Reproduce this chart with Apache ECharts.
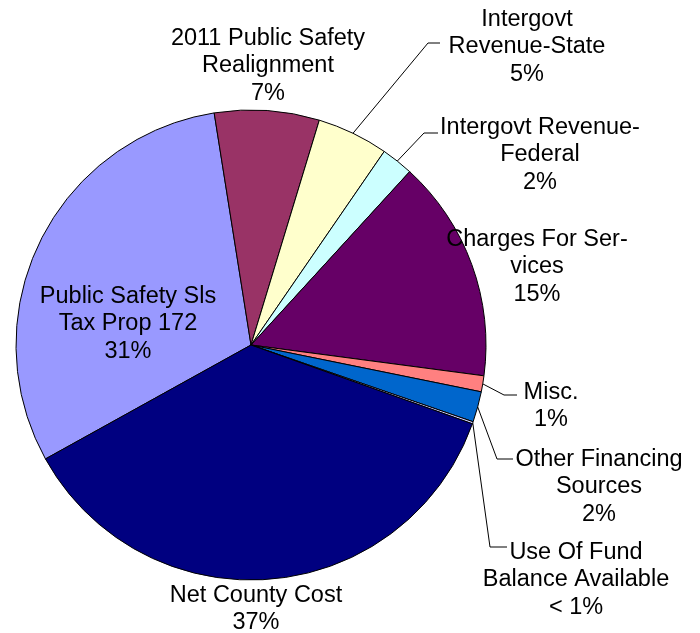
<!DOCTYPE html>
<html>
<head>
<meta charset="utf-8">
<title>Revenue sources</title>
<script src="https://cdn.jsdelivr.net/npm/echarts@6/dist/echarts.min.js"></script>
<style>
  html, body { margin: 0; padding: 0; background: #ffffff; }
  #chart { width: 700px; height: 633px; }
</style>
</head>
<body>
<div id="chart"></div>
<script>
// Revenue categories (label text, with the line breaks used on the chart)
const categories = [
  'Public Safety Sls\nTax Prop 172',
  '2011 Public Safety\nRealignment',
  'Intergovt\nRevenue-State',
  'Intergovt Revenue-\nFederal',
  'Charges For Ser-\nvices',
  'Misc.',
  'Other Financing\nSources',
  'Use Of Fund\nBalance Available',
  'Net County Cost'
];

// Share of total, in percent
const shares = [30.55, 7.2, 4.9, 2.2, 15.3, 1.1, 2.1, 0.15, 36.5];

// Slice fills
const sliceColors = ['#9999FF', '#993366', '#FFFFCC', '#CCFFFF', '#660066',
                     '#FF8080', '#0066CC', '#CCCCFF', '#000080'];

// Label anchor (centre of each text block), in pixels
const labelAnchors = [
  [128, 324], [268, 66], [527, 47], [540, 155], [537, 267],
  [551, 406], [599, 487], [576, 580], [256, 609]
];

// Leader line elbow and end points; null where a label has no leader
const leaderPaths = [
  null, null,
  [[428, 43], [440, 43]],
  [[424, 133], [438, 133]],
  null,
  [[504, 395], [517, 395]],
  [[497, 459], [513, 459]],
  [[490, 547], [507, 547]],
  null
];

const chart = echarts.init(document.getElementById('chart'), null, { renderer: 'canvas' });

const data = categories.map((name, i) => ({
  name: name,
  value: shares[i],
  itemStyle: { color: sliceColors[i] },
  labelLine: { show: !!leaderPaths[i] }
}));

chart.setOption({
  animation: false,
  backgroundColor: '#ffffff',
  series: [{
    type: 'pie',
    center: [251, 345],
    radius: [0, 235],
    startAngle: -151,
    clockwise: true,
    avoidLabelOverlap: false,
    silent: true,
    data: data,
    itemStyle: { borderColor: '#000000', borderWidth: 1 },
    label: {
      show: true,
      position: 'outside',
      color: '#000000',
      fontFamily: '"Liberation Sans", Arial, sans-serif',
      fontSize: 23.5,
      lineHeight: 27.5,
      align: 'center',
      formatter: function (p) {
        const pct = p.percent < 1 ? '< 1%' : Math.round(p.percent) + '%';
        return p.name + '\n' + pct;
      }
    },
    labelLine: {
      show: true,
      length: 10,
      length2: 10,
      smooth: false,
      lineStyle: { color: '#000000', width: 1 }
    },
    labelLayout: function (params) {
      const i = params.dataIndex;
      const out = {
        x: labelAnchors[i][0],
        y: labelAnchors[i][1],
        align: 'center',
        verticalAlign: 'middle',
        hideOverlap: false
      };
      if (leaderPaths[i] && params.labelLinePoints) {
        out.labelLinePoints = [params.labelLinePoints[0]].concat(leaderPaths[i]);
      }
      return out;
    },
    emphasis: { disabled: true }
  }]
});
</script>
</body>
</html>
